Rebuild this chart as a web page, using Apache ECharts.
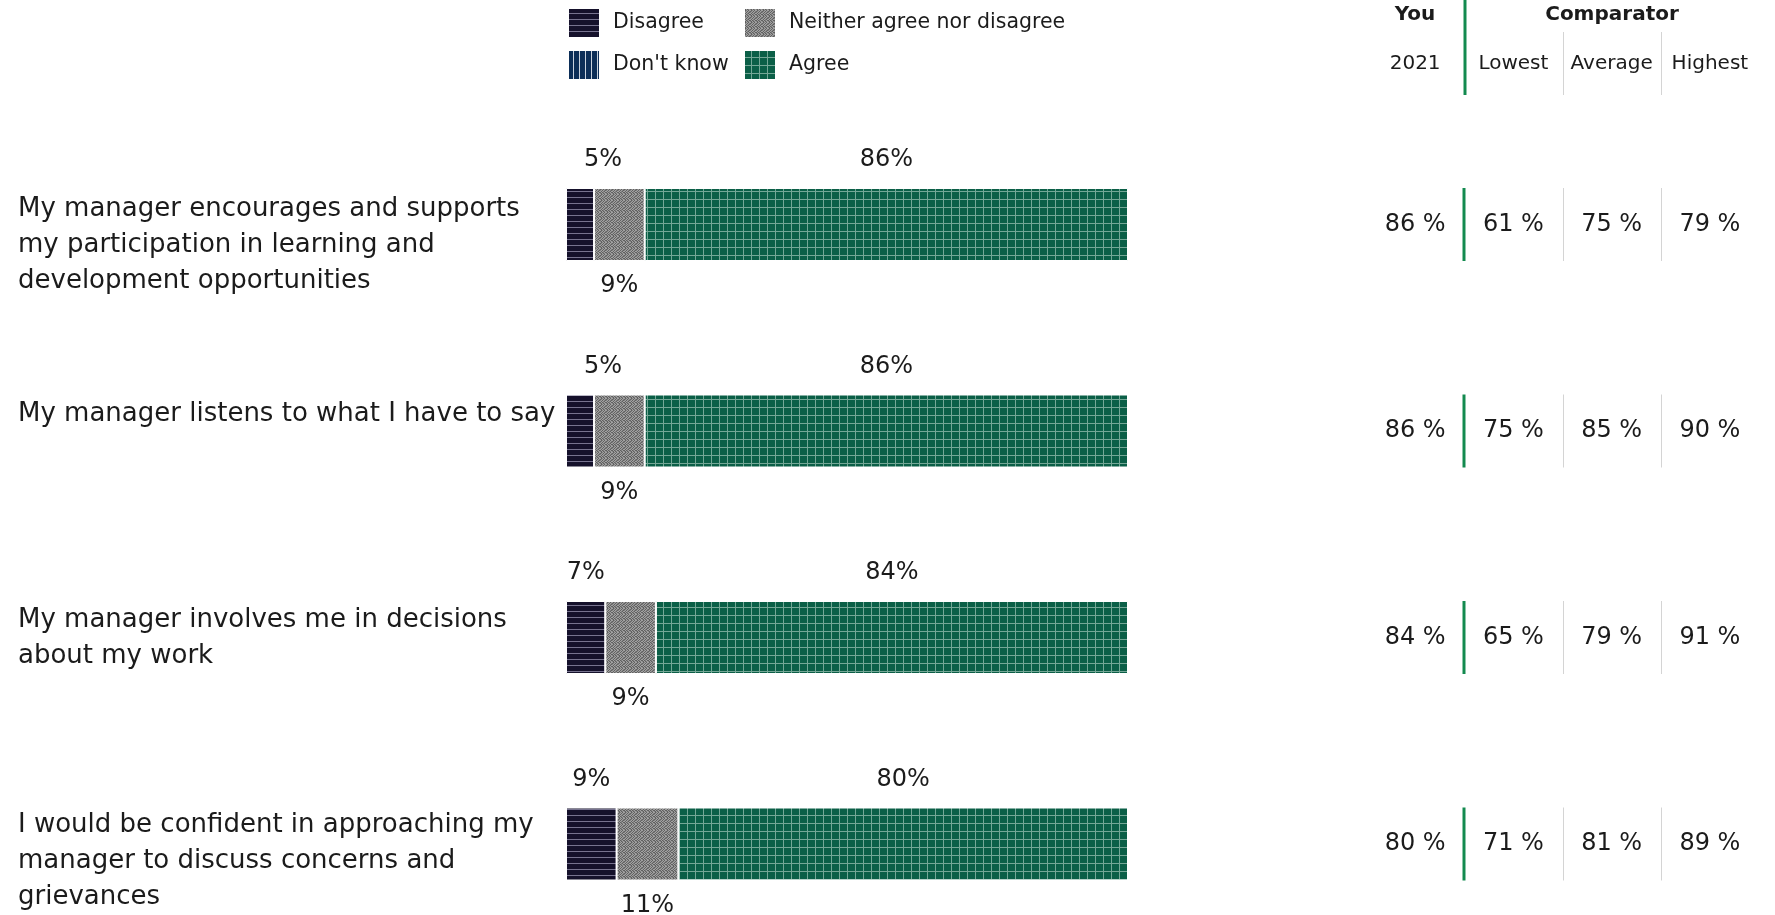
<!DOCTYPE html>
<html>
<head>
<meta charset="utf-8">
<script src="https://cdn.jsdelivr.net/npm/echarts@6/dist/echarts.min.js"></script>
<style>
html,body{margin:0;padding:0;background:#fff;}
#chart{width:1775px;height:915px;}
</style>
</head>
<body>
<div id="chart"></div>
<script>
// ---- data ----
const categories = [
  'My manager encourages and supports\nmy participation in learning and\ndevelopment opportunities',
  'My manager listens to what I have to say',
  'My manager involves me in decisions\nabout my work',
  'I would be confident in approaching my\nmanager to discuss concerns and\ngrievances'
];
const seriesNames = ['Disagree', "Don't know", 'Neither agree nor disagree', 'Agree'];
const disagree = [5, 5, 7, 9];
const dontKnow = [0, 0, 0, 0];
const neither = [9, 9, 9, 11];
const agree = [86, 86, 84, 80];
const tableColumns = ['2021', 'Lowest', 'Average', 'Highest'];
const you2021 = [86, 86, 84, 80];
const lowest = [61, 75, 65, 71];
const average = [75, 85, 79, 81];
const highest = [79, 90, 91, 89];

// ---- styling helpers ----
const FONT = 'DejaVu Sans';
const TXT = '#1b1b1b';
function pattern(w, h, draw) {
  const c = document.createElement('canvas');
  c.width = w; c.height = h;
  const g = c.getContext('2d');
  draw(g);
  return { image: c, repeat: 'repeat' };
}
const patDisagree = pattern(6, 6, g => {
  g.fillStyle = '#15112b'; g.fillRect(0, 0, 6, 6);
  g.fillStyle = '#77738f'; g.fillRect(0, 5, 6, 1);
});
const patDontKnow = pattern(6, 6, g => {
  g.fillStyle = '#0c2e58'; g.fillRect(0, 0, 6, 6);
  g.fillStyle = '#c9d2de'; g.fillRect(5, 0, 1, 6);
});
const greyMap = [
  '010210','201021','102101','021012','210120','101201'
];
const patNeither = pattern(6, 6, g => {
  const cols = ['#606060', '#a2a2a2', '#808080'];
  for (let y = 0; y < 6; y++) for (let x = 0; x < 6; x++) {
    g.fillStyle = cols[+greyMap[y][x]]; g.fillRect(x, y, 1, 1);
  }
});
const patAgree = pattern(8, 8, g => {
  g.fillStyle = '#0b5f47'; g.fillRect(0, 0, 8, 8);
  g.fillStyle = '#74a796'; g.fillRect(7, 0, 1, 8); g.fillRect(0, 7, 8, 1);
});

const chart = echarts.init(document.getElementById('chart'));

const BAR_H = 73;
const ROW0 = 224.5, ROW_STEP = 206.5;
function barSeries(name, values, fill, labelPos, dist, shift) {
  return {
    name, type: 'bar', stack: 'total', xAxisIndex: 0, yAxisIndex: 0,
    barWidth: BAR_H,
    itemStyle: { color: fill, borderColor: '#ffffff', borderWidth: 1 },
    label: {
      show: labelPos !== null, position: labelPos || 'top', distance: dist,
      formatter: p => p.value > 0 ? p.value + '%' : '',
      fontFamily: FONT, fontSize: 24, color: TXT
    },
    data: values.map(v => ({ value: v, label: { offset: [shift && v < 6 ? 23 : 0, 0] } }))
  };
}

const tableData = [];
const tableCols = [you2021, lowest, average, highest];
for (let r = 0; r < categories.length; r++) {
  for (let c = 0; c < tableCols.length; c++) tableData.push([c, r, tableCols[c][r]]);
}

const option = {
  animation: false,
  backgroundColor: '#ffffff',
  textStyle: { fontFamily: FONT },
  legend: [
    { left: 562, top: 2, orient: 'vertical', itemWidth: 32, itemHeight: 30, itemGap: 10,
      icon: 'rect', selectedMode: false, data: [seriesNames[0], seriesNames[1]],
      textStyle: { fontFamily: FONT, fontSize: 20.5, color: TXT, padding: [0, 0, 0, 8] } },
    { left: 738, top: 2, orient: 'vertical', itemWidth: 32, itemHeight: 30, itemGap: 10,
      icon: 'rect', selectedMode: false, data: [seriesNames[2], seriesNames[3]],
      textStyle: { fontFamily: FONT, fontSize: 20.5, color: TXT, padding: [0, 0, 0, 8] } }
  ],
  grid: [
    { left: 566, width: 562, top: ROW0, height: ROW_STEP * 3 },
    { left: 1366, width: 393, top: ROW0, height: ROW_STEP * 3 },
    { left: 566, width: 562, top: ROW0 - 33, height: ROW_STEP * 3 }
  ],
  xAxis: [
    { gridIndex: 0, type: 'value', min: 0, max: 100, show: false },
    { gridIndex: 1, type: 'category', data: tableColumns, position: 'top',
      axisLine: { show: false }, axisTick: { show: false },
      axisLabel: { interval: 0, fontFamily: FONT, fontSize: 20, color: TXT, margin: 151 } },
    { gridIndex: 2, type: 'value', min: 0, max: 100, show: false }
  ],
  yAxis: [
    { gridIndex: 0, type: 'category', data: categories, inverse: true, boundaryGap: false, show: false },
    { gridIndex: 1, type: 'category', data: categories, inverse: true, boundaryGap: false, show: false },
    { gridIndex: 2, type: 'category', data: categories, inverse: true, boundaryGap: false,
      axisLine: { show: false }, axisTick: { show: false }, splitLine: { show: false },
      axisLabel: { interval: 0, align: 'left', verticalAlign: 'top', margin: 548, fontFamily: FONT,
        fontSize: 26, lineHeight: 36, color: TXT } }
  ],
  graphic: [
    { type: 'text', x: 1415, y: 5, style: { text: 'You', font: 'bold 20px "' + FONT + '"', fill: TXT, align: 'center' } },
    { type: 'text', x: 1612, y: 5, style: { text: 'Comparator', font: 'bold 20px "' + FONT + '"', fill: TXT, align: 'center' } },
    { type: 'line', shape: { x1: 1465, y1: 0, x2: 1465, y2: 95 }, style: { stroke: '#138a4f', lineWidth: 3 } },
    { type: 'line', shape: { x1: 1563.5, y1: 32, x2: 1563.5, y2: 95 }, style: { stroke: '#d4d4d4', lineWidth: 1 } },
    { type: 'line', shape: { x1: 1661.5, y1: 32, x2: 1661.5, y2: 95 }, style: { stroke: '#d4d4d4', lineWidth: 1 } }
  ],
  series: [
    barSeries(seriesNames[0], disagree, patDisagree, 'top', 16, true),
    barSeries(seriesNames[1], dontKnow, patDontKnow, null, 0, false),
    barSeries(seriesNames[2], neither, patNeither, 'bottom', 13, false),
    barSeries(seriesNames[3], agree, patAgree, 'top', 16, false),
    {
      type: 'custom', xAxisIndex: 1, yAxisIndex: 1, data: tableData,
      renderItem: function (params, api) {
        const c = api.value(0), r = api.value(1), v = api.value(2);
        const p = api.coord([c, r]);
        const s = api.size([1, 1]);
        const children = [{
          type: 'text',
          style: { text: v + ' %', x: p[0], y: p[1], align: 'center', verticalAlign: 'middle',
            fontFamily: FONT, fontSize: 24, fill: TXT }
        }];
        if (c > 0) {
          const x = Math.round(p[0] - s[0] / 2) + (c === 1 ? 0 : 0.5);
          children.push({
            type: 'line',
            shape: { x1: x, y1: p[1] - BAR_H / 2, x2: x, y2: p[1] + BAR_H / 2 },
            style: { stroke: c === 1 ? '#138a4f' : '#d4d4d4', lineWidth: c === 1 ? 3 : 1 }
          });
        }
        return { type: 'group', children };
      }
    }
  ]
};
chart.setOption(option);
</script>
</body>
</html>
